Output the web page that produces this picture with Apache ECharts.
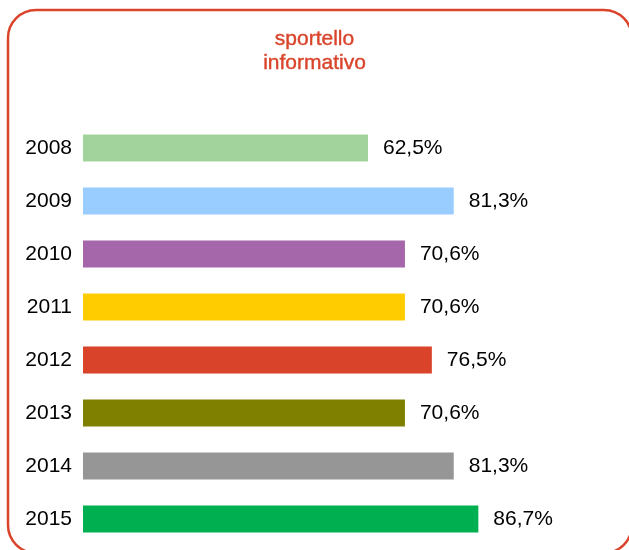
<!DOCTYPE html>
<html>
<head>
<meta charset="utf-8">
<script src="https://cdn.jsdelivr.net/npm/echarts@6/dist/echarts.min.js"></script>
<style>
  html, body { margin: 0; padding: 0; background: #fff; }
  #chart { width: 629px; height: 550px; }
</style>
</head>
<body>
<div id="chart"></div>
<script>
const years = ['2008', '2009', '2010', '2011', '2012', '2013', '2014', '2015']
const values = [62.5, 81.3, 70.6, 70.6, 76.5, 70.6, 81.3, 86.7]
const barColors = ['#a3d39c', '#99ccff', '#a666aa', '#ffcc00', '#d9432a', '#808000', '#969696', '#00b050']

const font = 'Liberation Sans, Arial, sans-serif'
const chart = echarts.init(document.getElementById('chart'))

chart.setOption({
  backgroundColor: '#fff',
  animation: false,
  title: {
    text: 'sportello\ninformativo',
    left: 'center',
    top: 22,
    textStyle: {
      color: '#d9442b',
      fontFamily: font,
      fontSize: 21,
      fontWeight: 'normal',
      lineHeight: 24,
      textBorderColor: '#d9442b',
      textBorderWidth: 0.4,
    },
  },
  graphic: [
    {
      type: 'rect',
      silent: true,
      shape: { x: 8, y: 10, width: 624, height: 543, r: 28 },
      style: { fill: 'none', stroke: '#d9442b', lineWidth: 2.5 },
    },
  ],
  grid: { left: 83, right: 90, top: 121.5, bottom: 4.5, containLabel: false },
  xAxis: {
    type: 'value',
    min: 0,
    max: 100,
    show: false,
  },
  yAxis: {
    type: 'category',
    data: years,
    inverse: true,
    axisLine: { show: false },
    axisTick: { show: false },
    axisLabel: {
      margin: 11,
      color: '#000',
      fontSize: 21,
      fontFamily: font,
    },
  },
  series: [
    {
      type: 'bar',
      data: values.map((v, i) => ({ value: v, itemStyle: { color: barColors[i] } })),
      barWidth: 27,
      label: {
        show: true,
        position: 'right',
        distance: 15,
        color: '#000',
        fontSize: 21,
        fontFamily: font,
        formatter: (p) => p.value.toFixed(1).replace('.', ',') + '%',
      },
    },
  ],
})
</script>
</body>
</html>
